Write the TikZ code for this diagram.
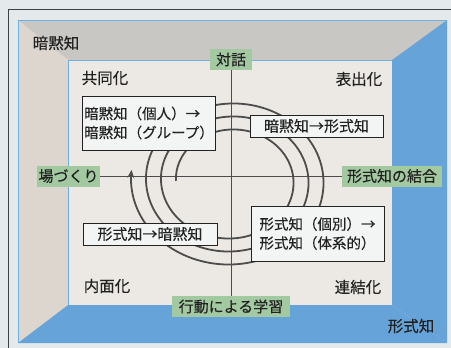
\documentclass[tikz,border=0pt]{standalone}
\usepackage{fontspec}
\setmainfont{Noto Sans CJK JP}[FakeBold=0.3]
\usetikzlibrary{arrows.meta}
\definecolor{bgc}{HTML}{E4E9EC}
\definecolor{ceil}{HTML}{C9C7C4}
\definecolor{lwall}{HTML}{DCD6CF}
\definecolor{back}{HTML}{ECE9E4}
\definecolor{bluew}{HTML}{66A3D9}
\definecolor{edgeb}{HTML}{6FB0E0}
\definecolor{greenl}{HTML}{A3C9A0}
\definecolor{boxf}{HTML}{F3F4F4}
\definecolor{inkc}{HTML}{222222}
\definecolor{spir}{HTML}{4C4C4C}
\begin{document}
\begin{tikzpicture}[x=1pt,y=-1pt,
  lbl/.style={fill=greenl,text=inkc,inner xsep=1.5pt,inner ysep=0pt,minimum height=21pt,font=\fontsize{15}{18}\selectfont},
  tbox/.style={draw=inkc,line width=0.8pt,fill=boxf,text=inkc,inner sep=2pt,align=left,font=\fontsize{14.5}{19}\selectfont},
  qlab/.style={text=inkc,inner sep=0pt,font=\fontsize{15.5}{18}\selectfont},
  axis/.style={draw=spir,line width=0.9pt},
  spiral/.style={draw=spir,line width=1.8pt}]
\useasboundingbox (0,0) rectangle (451,348);
\fill[bgc] (0,0) rectangle (451,348);
% frame
\draw[line width=0.9pt,draw=black!75] (8,348) -- (8,9.5) -- (451,9.5);
% room walls
\fill[ceil] (18,20) -- (447,20) -- (392,60) -- (68,60) -- cycle;
\fill[lwall] (18,20) -- (68,60) -- (68,305) -- (18,343) -- cycle;
\fill[bluew] (447,20) -- (447,343) -- (392,305) -- (392,60) -- cycle;
\fill[bluew] (18,343) -- (447,343) -- (392,305) -- (68,305) -- cycle;
\fill[back] (68,60) rectangle (392,305);
\draw[edgeb,line width=0.8pt] (18,343) -- (18,20) -- (447,20);
\draw[edgeb,line width=0.8pt] (68,305) -- (68,60) -- (392,60);
% corner labels
\node[qlab] (ankoku) at (56,43) {暗黙知};
\node[qlab] (keishiki) at (411,326) {形式知};
\node[qlab] (kyodo) at (105,78) {共同化};
\node[qlab] (hyoshutsu) at (359,79) {表出化};
\node[qlab] (naimen) at (107,286) {内面化};
\node[qlab] (renketsu) at (358,287) {連結化};
% spiral
\draw[spiral,-{Stealth[length=8pt,width=7pt]}] plot[domain=0:3.025,samples=400]
  ({231+(55+15*\x)*cos(180-360*\x)},{180.75-(48+13*\x)*sin(180-360*\x)});
% labels on axes
\node[lbl,minimum width=42pt] (taiwa) at (231,59.5) {対話};
\node[lbl,minimum width=63pt] (bazukuri) at (68.5,176) {場づくり};
\node[lbl,minimum width=100pt] (ketsugo) at (392,176) {形式知の結合};
\node[lbl,minimum width=118pt] (koudou) at (231,306.5) {行動による学習};
\draw[axis] (taiwa) -- (koudou);
\draw[axis] (bazukuri) -- (ketsugo);
% text boxes
\node[tbox,minimum width=132pt,minimum height=54pt] (b1) at (149,123) {暗黙知（個人）→\\暗黙知（グループ）};
\node[tbox,minimum width=133pt,minimum height=22pt,align=center,font=\fontsize{15}{18}\selectfont] (b2) at (316.5,126) {暗黙知→形式知};
\node[tbox,minimum width=134pt,minimum height=22pt,align=center,font=\fontsize{15}{18}\selectfont] (b3) at (150,234) {形式知→暗黙知};
\node[tbox,minimum width=133pt,minimum height=55pt] (b4) at (317.5,233.5) {形式知（個別）→\\形式知（体系的）};
\end{tikzpicture}
\end{document}
